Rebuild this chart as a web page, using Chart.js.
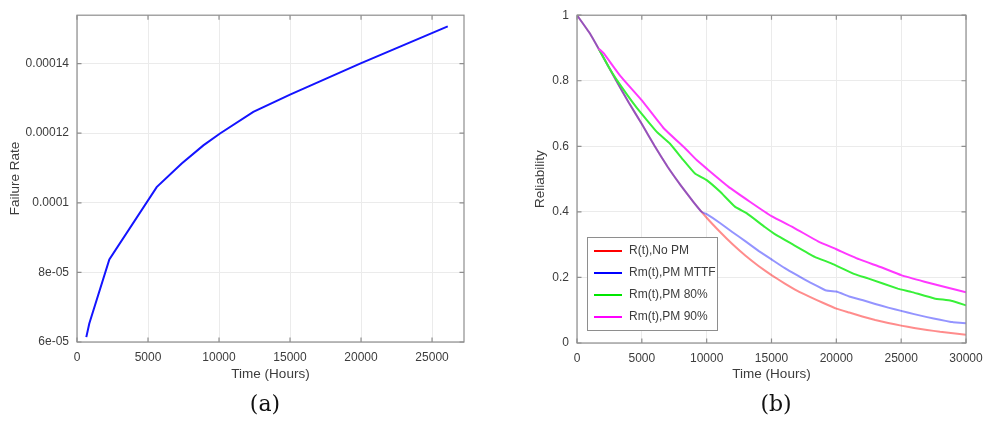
<!DOCTYPE html>
<html>
<head>
<meta charset="utf-8">
<script src="https://cdn.jsdelivr.net/npm/chart.js@4.4.0/dist/chart.umd.min.js"></script>
<style>
  html, body { margin: 0; padding: 0; background: #fff; }
  body { width: 984px; height: 422px; position: relative; overflow: hidden; }
  #rateChart { position: absolute; left: 0; top: 0; }
  #relChart { position: absolute; left: 500px; top: 0; }
  .caption { position: absolute; top: 391px; width: 100px; text-align: center;
             font-family: "DejaVu Serif", serif; font-size: 22px; color: #111; }
</style>
</head>
<body>
<canvas id="rateChart" width="470" height="400"></canvas>
<canvas id="relChart" width="484" height="400"></canvas>
<div class="caption" style="left:215px">(a)</div>
<div class="caption" style="left:726px">(b)</div>
<script>
// Failure rate (a)
const rateHours = [655, 866, 2277, 5610, 7373, 8897, 10070, 12415, 15000, 19930, 26106];
const failureRate = [6.14e-5, 6.53e-5, 8.37e-5, 1.045e-4, 1.113e-4, 1.165e-4, 1.199e-4, 1.261e-4, 1.311e-4, 1.400e-4, 1.507e-4];
const rateXTicks = [0, 5000, 10000, 15000, 20000, 25000];
const rateYTicks = [6e-5, 8e-5, 1e-4, 1.2e-4, 1.4e-4];
const rateYLabels = ['6e-05', '8e-05', '0.0001', '0.00012', '0.00014'];

// Reliability (b)
const noPmHours = [0, 1000, 2000, 3000, 4000, 5000, 6000, 7000, 8000, 9000, 10000,
  11000, 12000, 13000, 14000, 15000, 16000, 17000, 18000, 19000, 20000,
  21000, 22000, 23000, 24000, 25000, 26000, 27000, 28000, 29000, 30000];
const noPmRel = [1, 0.944, 0.874, 0.802, 0.733, 0.668, 0.600, 0.537, 0.481, 0.429, 0.382,
  0.340, 0.301, 0.266, 0.235, 0.207, 0.182, 0.159, 0.140, 0.122, 0.105,
  0.093, 0.081, 0.070, 0.061, 0.053, 0.046, 0.040, 0.034, 0.030, 0.025];

const mttfHours = [0, 1000, 2000, 3000, 4000, 5000, 6000, 7000, 8000, 9000, 9615,
  10000, 11000, 12000, 13000, 14000, 15000, 16000, 17000, 18000, 19000, 19230,
  20000, 21000, 22000, 23000, 24000, 25000, 26000, 27000, 28000, 28846, 29000, 30000];
const mttfRel = [1, 0.944, 0.874, 0.802, 0.733, 0.668, 0.600, 0.537, 0.481, 0.429, 0.400,
  0.393, 0.367, 0.338, 0.310, 0.281, 0.255, 0.229, 0.206, 0.184, 0.164, 0.160,
  0.157, 0.142, 0.131, 0.119, 0.108, 0.098, 0.088, 0.079, 0.071, 0.064, 0.0636, 0.060];

const pm80Hours = [1662, 2400, 3077, 4600, 6154, 7177, 8205, 9100, 10000, 11023, 12177, 13077,
  14485, 15385, 16538, 18330, 19615, 21410, 22436, 24740, 25770, 27560, 28850, 30000];
const pm80Rel = [0.898, 0.845, 0.802, 0.718, 0.644, 0.608, 0.558, 0.517, 0.497, 0.462, 0.416, 0.396,
  0.354, 0.329, 0.303, 0.263, 0.243, 0.210, 0.197, 0.166, 0.156, 0.136, 0.129, 0.115];

const pm90Hours = [1662, 2050, 3333, 5000, 6667, 8333, 9230, 10000, 11667, 13333,
  15000, 16800, 18590, 20000, 21790, 23460, 25000, 26800, 28460, 30000];
const pm90Rel = [0.898, 0.884, 0.815, 0.740, 0.656, 0.594, 0.558, 0.532, 0.477, 0.431,
  0.387, 0.350, 0.310, 0.286, 0.255, 0.231, 0.207, 0.187, 0.170, 0.155];

const seriesLabels = ['R(t),No PM', 'Rm(t),PM MTTF', 'Rm(t),PM 80%', 'Rm(t),PM 90%'];
const relXTicks = [0, 5000, 10000, 15000, 20000, 25000, 30000];
const relYTicks = [0, 0.2, 0.4, 0.6, 0.8, 1];
const relYLabels = ['0', '0.2', '0.4', '0.6', '0.8', '1'];

const textColor = '#3c3c3c';
Chart.defaults.font.family = '"Liberation Sans", Arial, sans-serif';
Chart.defaults.color = textColor;

const toPoints = (xs, ys) => xs.map((x, i) => ({ x: x, y: ys[i] }));

// Octave style frame with inward ticks on all four sides
const boxPlugin = {
  id: 'octaveBox',
  afterDatasetsDraw(chart) {
    const { ctx, chartArea: a, scales } = chart;
    const len = 4.5;
    ctx.save();
    ctx.strokeStyle = '#8e8e8e';
    ctx.lineWidth = 1.2;
    ctx.strokeRect(a.left, a.top, a.right - a.left, a.bottom - a.top);
    ctx.beginPath();
    scales.x.ticks.forEach(t => {
      const px = scales.x.getPixelForValue(t.value);
      ctx.moveTo(px, a.bottom); ctx.lineTo(px, a.bottom - len);
      ctx.moveTo(px, a.top); ctx.lineTo(px, a.top + len);
    });
    scales.y.ticks.forEach(t => {
      const py = scales.y.getPixelForValue(t.value);
      ctx.moveTo(a.left, py); ctx.lineTo(a.left + len, py);
      ctx.moveTo(a.right, py); ctx.lineTo(a.right - len, py);
    });
    ctx.stroke();
    ctx.restore();
  }
};

// legend box drawn inside the plot
const boxLegend = {
  id: 'boxLegend',
  afterDraw(chart, args, opts) {
    const { ctx } = chart;
    ctx.save();
    ctx.fillStyle = '#fff';
    ctx.fillRect(opts.x, opts.y, opts.w, opts.h);
    ctx.strokeStyle = '#8e8e8e';
    ctx.lineWidth = 1;
    ctx.strokeRect(opts.x + 0.5, opts.y + 0.5, opts.w, opts.h);
    ctx.font = '12px "Liberation Sans", Arial, sans-serif';
    ctx.textBaseline = 'middle';
    chart.data.datasets.forEach((ds, i) => {
      const y = opts.y + opts.first + i * opts.gap;
      ctx.strokeStyle = opts.colors[i];
      ctx.lineWidth = 2;
      ctx.beginPath();
      ctx.moveTo(opts.x + 7, y);
      ctx.lineTo(opts.x + 35, y);
      ctx.stroke();
      ctx.fillStyle = textColor;
      ctx.fillText(ds.label, opts.x + 42, y);
    });
    ctx.restore();
  }
};

const axisFont = { size: 12 };
const titleFont = { size: 13.5 };

const makeScales = (xMax, xTicks, yMin, yMax, yTicks, yLabels, yTitle, yTitlePad, xHeight) => ({
  x: {
    type: 'linear', min: 0, max: xMax,
    afterBuildTicks: s => { s.ticks = xTicks.map(v => ({ value: v })); },
    afterFit: s => { s.height = xHeight; s.paddingRight = 0; s.paddingLeft = 0; },
    grid: { color: '#ebebeb', drawTicks: false },
    border: { display: false },
    ticks: { font: axisFont, padding: 8, maxRotation: 0, callback: v => String(v) },
    title: { display: true, text: 'Time (Hours)', font: titleFont, padding: { top: 2, bottom: 18 } }
  },
  y: {
    type: 'linear', min: yMin, max: yMax,
    afterBuildTicks: s => { s.ticks = yTicks.map(v => ({ value: v })); },
    afterFit: s => { s.width = 77; },
    grid: { color: '#ebebeb', drawTicks: false },
    border: { display: false },
    ticks: { font: axisFont, padding: 8, callback: (v, i) => yLabels[i] },
    title: { display: true, text: yTitle, font: titleFont, padding: { top: yTitlePad, bottom: 0 } }
  }
});

new Chart(document.getElementById('rateChart'), {
  type: 'line',
  data: {
    datasets: [{
      label: 'Failure Rate',
      data: toPoints(rateHours, failureRate),
      borderColor: '#1414ff',
      borderWidth: 2,
      pointRadius: 0,
      tension: 0
    }]
  },
  options: {
    responsive: false,
    animation: false,
    devicePixelRatio: 1,
    layout: { padding: { top: 15, right: 6, left: 0, bottom: 0 } },
    plugins: { legend: { display: false }, tooltip: { enabled: false } },
    scales: makeScales(27250, rateXTicks, 6e-5, 1.539e-4, rateYTicks, rateYLabels, 'Failure Rate', 7, 58)
  },
  plugins: [boxPlugin]
});

new Chart(document.getElementById('relChart'), {
  type: 'line',
  data: {
    datasets: [
      // red drawn first, blue over it so the shared part looks purple
      { label: seriesLabels[0], data: toPoints(noPmHours, noPmRel), borderColor: 'rgba(255,0,0,0.45)', order: 4 },
      { label: seriesLabels[1], data: toPoints(mttfHours, mttfRel), borderColor: 'rgba(0,0,255,0.42)', order: 3 },
      { label: seriesLabels[2], data: toPoints(pm80Hours, pm80Rel), borderColor: '#38f038', order: 2 },
      { label: seriesLabels[3], data: toPoints(pm90Hours, pm90Rel), borderColor: '#ff38ff', order: 1 }
    ].map(d => Object.assign(d, { borderWidth: 2, pointRadius: 0, tension: 0.1 }))
  },
  options: {
    responsive: false,
    animation: false,
    devicePixelRatio: 1,
    layout: { padding: { top: 15, right: 18, left: 0, bottom: 0 } },
    plugins: {
      legend: { display: false },
      tooltip: { enabled: false },
      boxLegend: {
        x: 87, y: 237, w: 130, h: 93, first: 14, gap: 22,
        colors: ['#ff0000', '#0000ff', '#00e600', '#ff00ff']
      }
    },
    scales: makeScales(30000, relXTicks, 0, 1, relYTicks, relYLabels, 'Reliability', 32, 57)
  },
  plugins: [boxPlugin, boxLegend]
});
</script>
</body>
</html>
